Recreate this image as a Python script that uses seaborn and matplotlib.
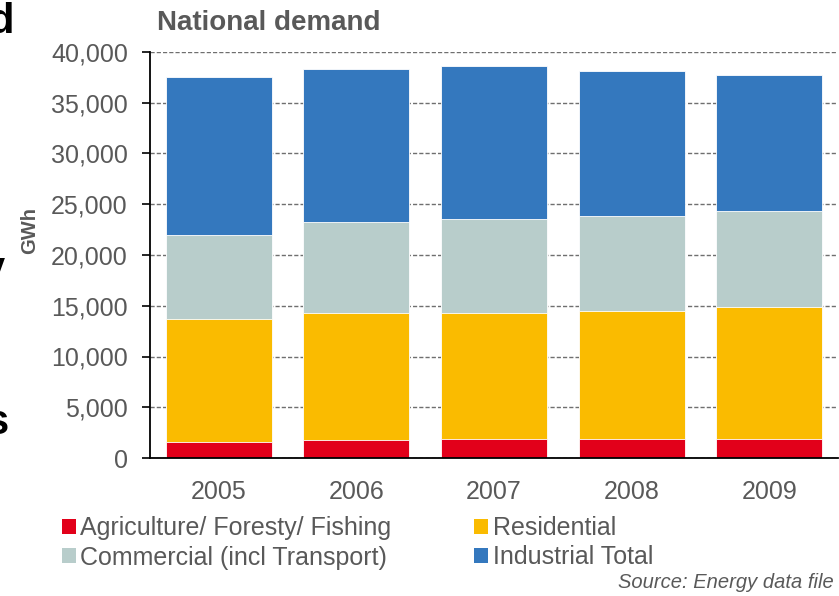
import matplotlib
matplotlib.use("Agg")
import matplotlib.pyplot as plt
import matplotlib.ticker as mticker
from matplotlib.patches import Patch
import seaborn as sns
import pandas as pd

# values (GWh)
years = ["2005", "2006", "2007", "2008", "2009"]
agriculture = [1600, 1750, 1900, 1900, 1900]
residential = [12100, 12550, 12400, 12600, 13000]
commercial = [8270, 8950, 9200, 9300, 9400]
industrial = [15580, 15050, 15100, 14300, 13400]

labels = ["Agriculture/ Foresty/ Fishing", "Residential",
          "Commercial (incl Transport)", "Industrial Total"]
colors = ["#E2001A", "#FABB00", "#B8CDCB", "#3478BE"]

df = pd.DataFrame({"year": years, labels[0]: agriculture, labels[1]: residential,
                   labels[2]: commercial, labels[3]: industrial})
cum = df[labels].cumsum(axis=1)
cum["year"] = df["year"]

sns.set_theme(style="white")
plt.rcParams["font.family"] = ["Liberation Sans", "DejaVu Sans"]
grey = "#595959"

fig = plt.figure(figsize=(8.39, 5.96), dpi=100)
ax = fig.add_axes([150 / 839, 1 - 458 / 596, 688 / 839, 406 / 596])

# stacked bars: draw cumulative totals from the top layer down
for lab, col in zip(labels[::-1], colors[::-1]):
    sns.barplot(data=cum, x="year", y=lab, color=col, width=0.77,
                edgecolor="white", linewidth=0.6, saturation=1, ax=ax)

ax.set_ylim(0, 40000)
ax.set_xlim(-0.5, 4.5)
ax.set_yticks(range(0, 40001, 5000))
ax.yaxis.set_major_formatter(mticker.FuncFormatter(lambda v, p: f"{v:,.0f}"))
ax.yaxis.grid(True, linestyle=(0, (3, 1.5)), color="#6f6f6f", linewidth=1)
ax.set_axisbelow(True)

# x ticks between categories, labels centred under bars
ax.set_xticks([i - 0.5 for i in range(6)])
ax.set_xticklabels([])
ax.set_xticks(range(5), minor=True)
ax.set_xticklabels(years, minor=True)
ax.tick_params(axis="x", which="major", direction="out", length=6, width=1.2, color="black")
ax.tick_params(axis="x", which="minor", length=0, pad=16, labelsize=18, labelcolor=grey)
ax.tick_params(axis="y", direction="out", length=6, width=1.2, color="black",
               pad=10, labelsize=18, labelcolor=grey, left=True)

for s in ["top", "right"]:
    ax.spines[s].set_visible(False)
for s in ["left", "bottom"]:
    ax.spines[s].set_color("black")
    ax.spines[s].set_linewidth(1.3)
ax.set_xlabel("")
ax.set_ylabel("")

fig.text(157 / 839, 1 - 30 / 596, "National demand", fontsize=20, fontweight="bold",
         color=grey, va="baseline", ha="left")
fig.text(30 / 839, 1 - 230 / 596, "GWh", fontsize=14.5, fontweight="bold",
         color=grey, rotation=90, va="center", ha="center")

# fragments of slide text cut off at the left edge
fig.text(14 / 839, 1 - 33 / 596, "d", fontsize=30, fontweight="bold", color="black",
         ha="right", va="baseline")
fig.text(5 / 839, 1 - 281 / 596, "y", fontsize=30, fontweight="bold", color="black",
         ha="right", va="baseline")
fig.text(9 / 839, 1 - 434 / 596, "s", fontsize=30, fontweight="bold", color="black",
         ha="right", va="baseline")

handles = [Patch(facecolor=c, edgecolor="none", label=l) for c, l in zip(colors, labels)]
order = [0, 2, 1, 3]
leg = fig.legend([handles[i] for i in order], [labels[i] for i in order],
                 loc="upper left", bbox_to_anchor=(62 / 839, 1 - 516 / 596), ncol=2,
                 frameon=False, fontsize=18, handlelength=0.56, handleheight=0.56,
                 handletextpad=0.18, columnspacing=3.3, labelspacing=0.22,
                 borderaxespad=0, borderpad=0)
for t in leg.get_texts():
    t.set_color(grey)

fig.text(834 / 839, 1 - 582 / 596, "Source: Energy data file", fontsize=14.5,
         fontstyle="italic", color=grey, ha="right", va="center")

fig.savefig("out.png", dpi=100)
